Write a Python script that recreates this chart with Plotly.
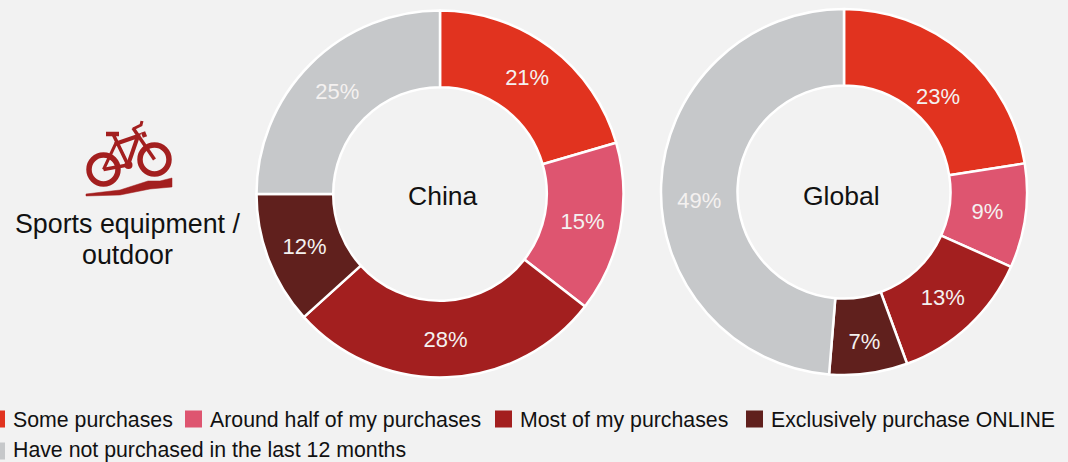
import plotly.graph_objects as go

W, H = 1068, 462
BG = "#F2F2F2"
FONT = "Liberation Sans, Arial, sans-serif"

categories = ["Some purchases", "Around half of my purchases", "Most of my purchases",
              "Exclusively purchase ONLINE", "Have not purchased in the last 12 months"]
colors = ["#E1331F", "#DE5570", "#A31F1F", "#60201D", "#C6C8CA"]
china_labels = ["21%", "15%", "28%", "12%", "25%"]
global_labels = ["&nbsp;<br>23%", "9%", "13%", "7%", "&nbsp;<br>49%"]
china_values = [20.5, 15.0, 27.8, 11.7, 25.0]
global_values = [22.5, 9.2, 12.7, 6.9, 48.7]

def px(x): return x / W
def py(y): return 1 - y / H

def donut(values, shown, name, cx, cy, r):
    return go.Pie(labels=categories, values=values, name=name, sort=False, direction="clockwise",
                  rotation=0, hole=0.582, marker=dict(colors=colors, line=dict(color="white", width=2.5)),
                  text=shown, textinfo="text", textposition="inside",
                  insidetextorientation="horizontal",
                  textfont=dict(family=FONT, size=22, color="#F4F1F0"), showlegend=False,
                  domain=dict(x=[px(cx - r), px(cx + r)], y=[py(cy + r), py(cy - r)]))

fig = go.Figure([donut(china_values, china_labels, "China", 440, 194, 183.5),
                 donut(global_values, global_labels, "Global", 844, 192, 183)])

ann = []
def text(x, y, s, size=20, anchor="left"):
    ann.append(dict(x=px(x), y=py(y), xref="paper", yref="paper", text=s, showarrow=False,
                    xanchor=anchor, yanchor="middle", xshift=0, borderpad=0,
                    font=dict(family=FONT, size=size, color="#111111")))

text(443, 196, "China", 26.5, "center")
text(841, 196, "Global", 26.5, "center")
text(127, 224, "Sports equipment /", 26.8, "center")
text(127, 255, "outdoor", 26.8, "center")

shapes = []
legend_items = [(-12, 419, 0, 420), (185, 419, 1, 420), (495, 419, 2, 420), (746, 419, 3, 420), (-12, 451, 4, 450)]
for x, y, i, ty in legend_items:
    shapes.append(dict(type="rect", xref="paper", yref="paper", x0=px(x), x1=px(x + 17),
                       y0=py(y + 8.5), y1=py(y - 8.5), fillcolor=colors[i], line_width=0))
    text(x + 23.5, ty, categories[i], 21.3)

ICON = "#A31F1F"
def ring(cx, cy, r, w):
    shapes.append(dict(type="circle", xref="paper", yref="paper", x0=px(cx - r), x1=px(cx + r),
                       y0=py(cy + r), y1=py(cy - r), fillcolor="rgba(0,0,0,0)",
                       line=dict(color=ICON, width=w)))
def path(pts, w=0, closed=False):
    d = "M " + " L ".join(f"{px(x):.5f},{py(y):.5f}" for x, y in pts) + (" Z" if closed else "")
    shapes.append(dict(type="path", path=d, xref="paper", yref="paper",
                       fillcolor=ICON if closed else "rgba(0,0,0,0)",
                       line=dict(color=ICON, width=w)))

ring(103.5, 169.5, 14.5, 5.5)
ring(154.5, 159.5, 14.5, 5.5)
for seg, w in [([(103.5, 169.5), (128, 165), (113, 134)], 3.5),
               ([(103.5, 169.5), (116, 143)], 3),
               ([(115, 144), (138, 136), (128, 165)], 4),
               ([(133, 128), (154.5, 159.5)], 3.5),
               ([(106, 134), (119, 134)], 4.5),
               ([(133, 129), (137, 127), (141, 125), (142, 121)], 3),
               ([(143, 132), (145, 137)], 4.5)]:
    path(seg, w)
ring(128.5, 165, 2.5, 3)
path([(86, 194), (120, 190), (148, 181), (160, 181), (172, 178), (172, 187), (150, 189),
      (120, 195), (86, 196)], 0.5, True)

fig.update_layout(width=W, height=H, margin=dict(l=0, r=0, t=0, b=0), paper_bgcolor=BG,
                  plot_bgcolor=BG, annotations=ann, shapes=shapes, showlegend=False)
fig.write_html("out.html", config=dict(displayModeBar=False),
               post_script="document.body.style.margin='0';document.body.style.overflow='hidden';document.body.style.background='#F2F2F2';")
